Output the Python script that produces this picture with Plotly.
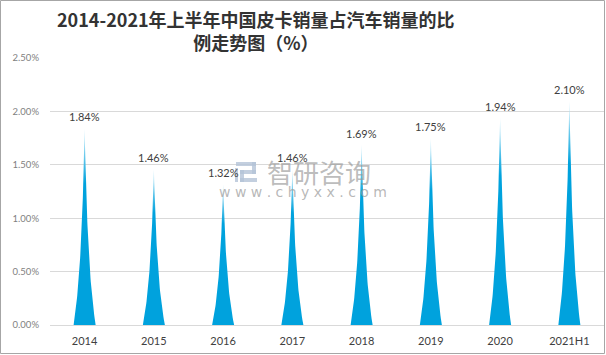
import numpy as np
import plotly.graph_objects as go

categories = ["2014", "2015", "2016", "2017", "2018", "2019", "2020", "2021H1"]
values = [1.84, 1.46, 1.32, 1.46, 1.69, 1.75, 1.94, 2.10]
y_ticks = [0, 0.5, 1.0, 1.5, 2.0, 2.5]
y_ticktext = ["0.00%", "0.50%", "1.00%", "1.50%", "2.00%", "2.50%"]
title_lines = ["2014-2021年上半年中国皮卡销量占汽车销量的比", "例走势图（%）"]

W, H = 606, 355
ML, MR, MT, MB = 50, 2, 58, 30
plot_w = W - ML - MR
plot_h = H - MT - MB

HALF_W = 0.159  # spike half-width in category units
K = 1.8

fig = go.Figure()

h = np.linspace(0, 1, 60)
hw = HALF_W * (1 - h) / (1 + K * h)
for i, v in enumerate(values):
    xs = np.concatenate([i - hw, (i + hw)[::-1]])
    ys = np.concatenate([v * h, (v * h)[::-1]])
    fig.add_trace(go.Scatter(
        x=xs, y=ys, mode="lines", fill="toself",
        line=dict(width=0, color="rgba(0,0,0,0)"),
        fillgradient=dict(type="vertical",
                          colorscale=[[0, "#00A2DD"], [0.72, "#00A2DD"], [1, "#D2F0FB"]]),
        hoverinfo="skip", showlegend=False,
    ))


def px2paper(px, py):
    return (px - ML) / plot_w, 1 - (py - MT) / plot_h


annotations = []
for i, v in enumerate(values):
    annotations.append(dict(
        x=i, y=v, xref="x", yref="y", text=f"{v:.2f}%", showarrow=False,
        yanchor="bottom", yshift=3,
        font=dict(family="Lato, Open Sans, sans-serif", size=11, color="#404040"),
    ))

# title
tx, ty = px2paper(256, 4)
annotations.append(dict(
    x=tx, y=ty, xref="paper", yref="paper", text="<br>".join(title_lines),
    showarrow=False, xanchor="center", yanchor="top", align="center",
    font=dict(family="Noto Sans CJK SC", size=18, color="#333333", weight="bold"),
))

# watermark
wx, wy = px2paper(319, 171)
annotations.append(dict(
    x=wx, y=wy, xref="paper", yref="paper", text="智研咨询",
    showarrow=False, xanchor="center", yanchor="middle",
    font=dict(family="Noto Sans CJK SC", size=26, color="rgba(150,150,150,0.65)"),
))
ux, uy = px2paper(303, 192)
annotations.append(dict(
    x=ux, y=uy, xref="paper", yref="paper", text="w w w . c h y x x . c o m",
    showarrow=False, xanchor="center", yanchor="middle",
    font=dict(family="DejaVu Sans", size=14, color="rgba(160,160,160,0.75)"),
))

shapes = []
# logo approximation
logo_col = "rgba(180,195,215,0.8)"
for (x0, y0, x1, y1) in [(236, 162, 256, 166), (252, 162, 256, 174), (240, 170, 256, 174),
                         (240, 170, 244, 182), (240, 178, 257, 182), (235, 168, 238, 182)]:
    a0, b0 = px2paper(x0, y0)
    a1, b1 = px2paper(x1, y1)
    shapes.append(dict(type="rect", xref="paper", yref="paper", x0=a0, y0=b1, x1=a1, y1=b0,
                       fillcolor=logo_col, line=dict(width=0), layer="above"))

# outer border
bx0, by0 = px2paper(0.5, 0.5)
bx1, by1 = px2paper(604.5, 353.5)
shapes.append(dict(type="rect", xref="paper", yref="paper", x0=bx0, y0=by1, x1=bx1, y1=by0,
                   line=dict(color="#A6A6A6", width=1), fillcolor="rgba(0,0,0,0)"))

fig.update_layout(
    width=W, height=H,
    margin=dict(l=ML, r=MR, t=MT, b=MB),
    paper_bgcolor="white", plot_bgcolor="white",
    xaxis=dict(range=[-0.5, len(categories) - 0.5], tickvals=list(range(len(categories))),
               ticktext=categories, showgrid=False, zeroline=False, showline=False,
               ticks="", tickfont=dict(family="Lato, Open Sans, sans-serif", size=11, color="#404040"),
               ticklabelstandoff=8),
    yaxis=dict(range=[0, 2.5], tickvals=y_ticks, ticktext=y_ticktext, showgrid=True,
               gridcolor="#D9D9D9", gridwidth=1, zeroline=True, zerolinecolor="#D9D9D9",
               zerolinewidth=1, showline=False, ticks="",
               tickfont=dict(family="Lato, Open Sans, sans-serif", size=9.5, color="#7F7F7F"),
               ticklabelstandoff=10),
    annotations=annotations,
    shapes=shapes,
)

fig.write_html("out.html", config={"displayModeBar": False},
               post_script="document.body.style.margin='0';document.body.style.overflow='hidden';")
